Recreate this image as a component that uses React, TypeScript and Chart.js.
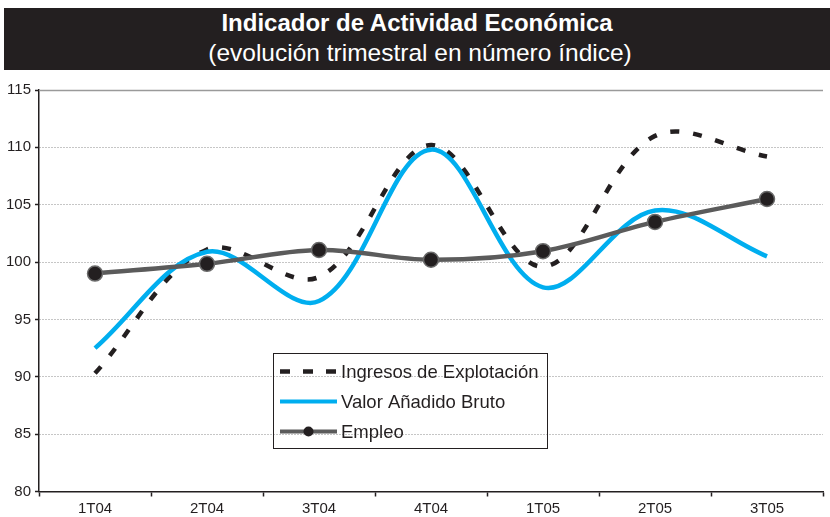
import React, { useEffect, useRef } from 'react';
import { Chart, registerables } from 'chart.js';

Chart.register(...registerables);

const categories = ['1T04', '2T04', '3T04', '4T04', '1T05', '2T05', '3T05'];
const ingresos = [90.3, 101.1, 98.7, 110.2, 99.6, 111.0, 109.2];
const valorAnadido = [92.5, 100.9, 96.6, 109.8, 97.8, 104.5, 100.5];
const empleo = [99.0, 99.85, 101.05, 100.2, 100.95, 103.5, 105.5];
const yMin = 80;
const yMax = 115;
const yStep = 5;
const titleText = 'Indicador de Actividad Económica';
const subtitleText = '(evolución trimestral en número índice)';
const seriesNames = ['Ingresos de Explotación', 'Valor Añadido Bruto', 'Empleo'];

const FONT = '"Liberation Sans", Arial, Helvetica, sans-serif';
const INK = '#231f20';
const BLUE = '#00aeef';
const GRAY = '#5b5b5b';

const topLinePlugin = {
  id: 'topLine',
  beforeDatasetsDraw(chart: any) {
    const { ctx, chartArea, scales } = chart;
    const y = Math.round(scales.y.getPixelForValue(yMax)) + 0.5;
    ctx.save();
    ctx.strokeStyle = '#9a9a9a';
    ctx.lineWidth = 1.5;
    ctx.beginPath();
    ctx.moveTo(chartArea.left, y);
    ctx.lineTo(chartArea.right, y);
    ctx.stroke();
    ctx.restore();
  },
};

const boxLegendPlugin = {
  id: 'boxLegend',
  afterDraw(chart: any) {
    const ctx = chart.ctx;
    const x0 = 273.5;
    const y0 = 283.5;
    const w = 274;
    const h = 95;
    ctx.save();
    ctx.strokeStyle = INK;
    ctx.lineWidth = 1;
    ctx.strokeRect(x0, y0, w, h);
    const rows = [y0 + 18, y0 + 48, y0 + 78];
    const lx0 = 280;
    const lx1 = 337;
    ctx.lineWidth = 4.5;
    ctx.strokeStyle = INK;
    ctx.setLineDash([10, 13]);
    ctx.beginPath();
    ctx.moveTo(lx0, rows[0]);
    ctx.lineTo(lx1, rows[0]);
    ctx.stroke();
    ctx.setLineDash([]);
    ctx.lineWidth = 4;
    ctx.strokeStyle = BLUE;
    ctx.beginPath();
    ctx.moveTo(lx0, rows[1]);
    ctx.lineTo(lx1, rows[1]);
    ctx.stroke();
    ctx.strokeStyle = GRAY;
    ctx.beginPath();
    ctx.moveTo(lx0, rows[2]);
    ctx.lineTo(lx1, rows[2]);
    ctx.stroke();
    ctx.fillStyle = INK;
    ctx.beginPath();
    ctx.arc((lx0 + lx1) / 2, rows[2], 5, 0, Math.PI * 2);
    ctx.fill();
    ctx.fillStyle = INK;
    ctx.font = `18.5px ${FONT}`;
    ctx.textBaseline = 'middle';
    ctx.textAlign = 'left';
    seriesNames.forEach((n, i) => ctx.fillText(n, 341, rows[i] + 1));
    ctx.restore();
  },
};

export default function App() {
  const canvasRef = useRef<HTMLCanvasElement | null>(null);

  useEffect(() => {
    if (!canvasRef.current) return;
    const chart = new Chart(canvasRef.current, {
      type: 'line',
      data: {
        labels: categories,
        datasets: [
          {
            label: seriesNames[2],
            data: empleo,
            borderColor: GRAY,
            borderWidth: 4.5,
            tension: 0.35,
            pointRadius: 7.5,
            pointBackgroundColor: INK,
            pointBorderColor: '#6a6a6a',
            pointBorderWidth: 1.5,
            order: 0,
          },
          {
            label: seriesNames[1],
            data: valorAnadido,
            borderColor: BLUE,
            borderWidth: 4.5,
            tension: 0.35,
            pointRadius: 0,
            order: 1,
          },
          {
            label: seriesNames[0],
            data: ingresos,
            borderColor: INK,
            borderWidth: 4.5,
            borderDash: [9, 14],
            tension: 0.35,
            pointRadius: 0,
            order: 2,
          },
        ],
      },
      options: {
        responsive: false,
        animation: false,
        devicePixelRatio: 1,
        layout: { padding: { top: 20, right: 0, left: 0, bottom: 0 } },
        plugins: {
          legend: { display: false },
          title: { display: false },
          tooltip: { enabled: false },
        },
        scales: {
          x: {
            type: 'category',
            offset: true,
            grid: {
              display: true,
              drawOnChartArea: false,
              drawTicks: true,
              tickLength: 5,
              offset: true,
              color: INK,
              tickColor: INK,
              tickWidth: 1.5,
            },
            border: { display: true, color: INK, width: 1.5 },
            ticks: {
              color: INK,
              font: { family: FONT, size: 15 },
              padding: 3,
              maxRotation: 0,
              autoSkip: false,
            },
            afterFit: (s: any) => {
              s.height = 25.5;
            },
          },
          y: {
            min: yMin,
            max: yMax,
            ticks: {
              stepSize: yStep,
              color: INK,
              font: { family: FONT, size: 15 },
              padding: 4,
            },
            grid: {
              color: (c: any) => (c.tick && c.tick.value === yMax ? 'rgba(0,0,0,0)' : '#8c8c8c'),
              lineWidth: 1,
              tickLength: 4,
              tickColor: INK,
              tickWidth: 1.5,
              tickBorderDash: [],
            },
            border: { display: true, color: INK, width: 1.5, dash: [1, 2] },
            afterFit: (s: any) => {
              s.width = 39;
            },
          },
        },
      } as any,
      plugins: [topLinePlugin, boxLegendPlugin],
    });
    return () => chart.destroy();
  }, []);

  return (
    <div
      style={{
        position: 'absolute',
        left: 0,
        top: 0,
        width: 830,
        height: 517,
        overflow: 'hidden',
        background: '#ffffff',
        fontFamily: FONT,
      }}
    >
      <div
        style={{
          position: 'absolute',
          left: 4,
          top: 8,
          width: 826,
          height: 62,
          background: INK,
          color: '#ffffff',
          textAlign: 'center',
        }}
      >
        <div style={{ position: 'absolute', left: 0, right: 0, top: 0, height: 30, lineHeight: '30px', fontSize: 24, fontWeight: 'bold' }}>
          {titleText}
        </div>
        <div style={{ position: 'absolute', left: 6, right: 0, top: 30, height: 30, lineHeight: '30px', fontSize: 24.5 }}>
          {subtitleText}
        </div>
      </div>
      <div style={{ position: 'absolute', left: 0, top: 70, width: 832, height: 447 }}>
        <canvas ref={canvasRef} width={832} height={447} style={{ display: 'block', width: 832, height: 447 }} />
      </div>
    </div>
  );
}
